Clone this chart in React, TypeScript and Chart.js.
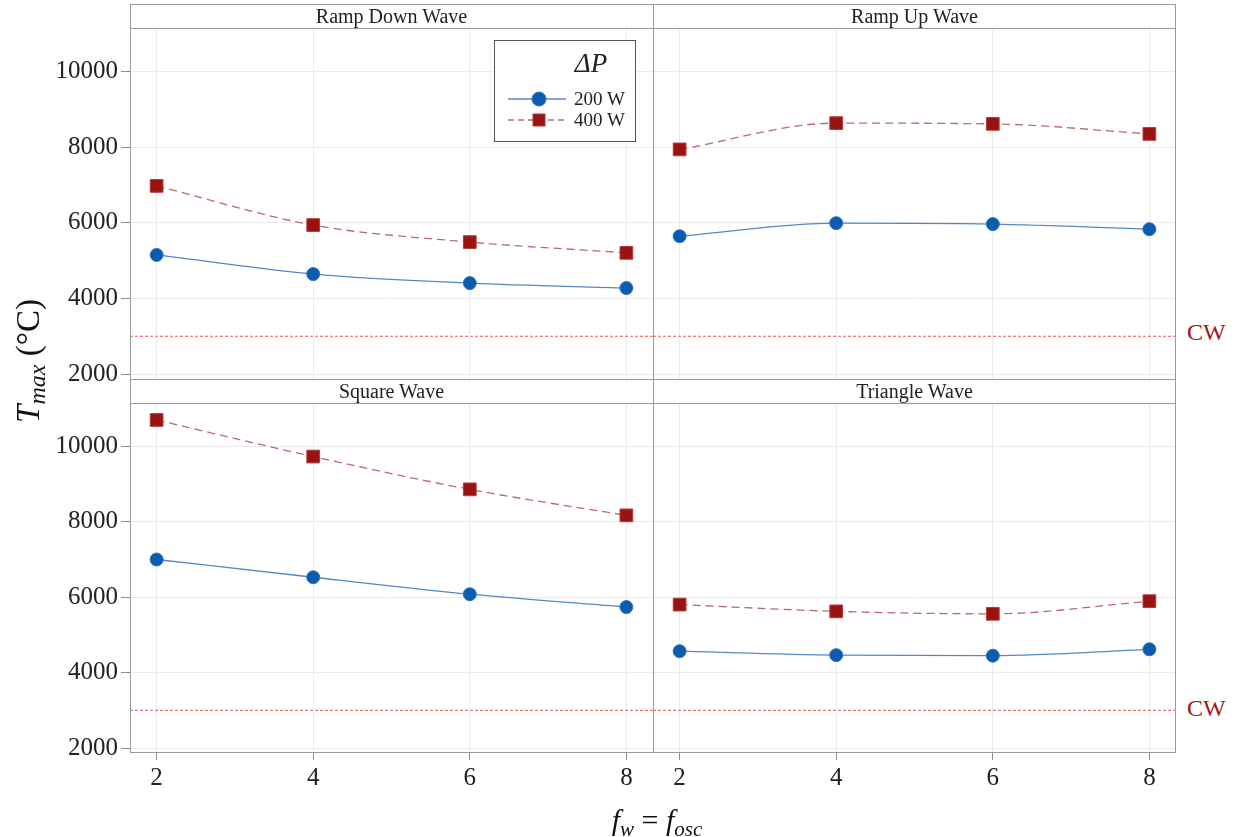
import React, { useEffect, useRef } from "react";
import { Chart, registerables } from "chart.js";

Chart.register(...registerables);

// Oscillation frequency (x) and maximum temperature (y) for each wave shape.
const frequencies = [2, 4, 6, 8];
const yTickValues = [2000, 4000, 6000, 8000, 10000];

const rampDown200 = [5150, 4645, 4405, 4275];
const rampDown400 = [6975, 5940, 5490, 5205];
const rampUp200 = [5645, 5990, 5965, 5830];
const rampUp400 = [7940, 8635, 8615, 8350];
const square200 = [7000, 6530, 6080, 5740];
const square400 = [10700, 9730, 8860, 8170];
const triangle200 = [4570, 4465, 4450, 4620];
const triangle400 = [5805, 5625, 5560, 5895];

const cwLevel = 3000;
const xRange = [1.66, 8.34];
const yRange = [1870, 11150];

const panelTitles = ["Ramp Down Wave", "Ramp Up Wave", "Square Wave", "Triangle Wave"];
const seriesLabels = ["200 W", "400 W"];

const SERIF = "'Liberation Serif', 'Times New Roman', Times, serif";
const GRID = "#ebebeb";
const FRAME = "#9a9a9a";

type PanelSpec = {
  title: string;
  low: number[];
  high: number[];
  left: number;
  top: number;
  width: number;
  height: number;
  yAxisWidth: number;
  xAxisHeight: number;
  xLabels: boolean;
};

// Top panels keep a little room below the plot so the lowest y label is not cut.
const panels: PanelSpec[] = [
  { title: panelTitles[0], low: rampDown200, high: rampDown400, left: 0, top: 28, width: 653, height: 371, yAxisWidth: 130, xAxisHeight: 20, xLabels: false },
  { title: panelTitles[1], low: rampUp200, high: rampUp400, left: 653, top: 28, width: 523, height: 351, yAxisWidth: 0, xAxisHeight: 0, xLabels: false },
  { title: panelTitles[2], low: square200, high: square400, left: 0, top: 403, width: 653, height: 400, yAxisWidth: 130, xAxisHeight: 50, xLabels: true },
  { title: panelTitles[3], low: triangle200, high: triangle400, left: 653, top: 403, width: 523, height: 400, yAxisWidth: 0, xAxisHeight: 50, xLabels: true },
];

function buildConfig(p: PanelSpec): any {
  const showY = p.yAxisWidth > 0;
  const showX = p.xLabels;
  return {
    type: "line",
    data: {
      datasets: [
        {
          label: seriesLabels[0],
          data: frequencies.map((x, i) => ({ x, y: p.low[i] })),
          borderColor: "#5388c8",
          borderWidth: 1.3,
          cubicInterpolationMode: "monotone",
          pointStyle: "circle",
          pointRadius: 6.5,
          pointBackgroundColor: "#0b5cad",
          pointBorderColor: "#2f74c2",
          pointBorderWidth: 1,
        },
        {
          label: seriesLabels[1],
          data: frequencies.map((x, i) => ({ x, y: p.high[i] })),
          borderColor: "#bb6a6a",
          borderWidth: 1.3,
          borderDash: [8, 5],
          cubicInterpolationMode: "monotone",
          pointStyle: "rect",
          pointRadius: 9,
          pointBackgroundColor: "#9a1313",
          pointBorderColor: "#b83a3a",
          pointBorderWidth: 1,
        },
        {
          label: "CW",
          data: [
            { x: xRange[0], y: cwLevel },
            { x: xRange[1], y: cwLevel },
          ],
          borderColor: "#e25a5a",
          borderWidth: 1,
          borderDash: [3, 2],
          pointRadius: 0,
        },
      ],
    },
    options: {
      responsive: false,
      maintainAspectRatio: false,
      animation: false,
      events: [],
      layout: { padding: 0, autoPadding: false },
      plugins: { legend: { display: false }, tooltip: { enabled: false } },
      scales: {
        x: {
          type: "linear",
          min: xRange[0],
          max: xRange[1],
          afterBuildTicks: (s: any) => {
            s.ticks = frequencies.map((v) => ({ value: v }));
          },
          afterFit: (s: any) => {
            s.height = p.xAxisHeight;
            s.paddingLeft = 0;
            s.paddingRight = 0;
          },
          border: { display: false },
          grid: { color: GRID, lineWidth: 1, drawTicks: showX, tickLength: 7, tickColor: "#8c8c8c" },
          ticks: {
            display: showX,
            padding: 3,
            maxRotation: 0,
            color: "#222",
            font: { family: SERIF, size: 25 },
            callback: (v: number) => String(v),
          },
        },
        y: {
          type: "linear",
          min: yRange[0],
          max: yRange[1],
          afterBuildTicks: (s: any) => {
            s.ticks = yTickValues.map((v) => ({ value: v }));
          },
          afterFit: (s: any) => {
            s.width = p.yAxisWidth;
            s.paddingTop = 0;
            s.paddingBottom = 0;
          },
          border: { display: false },
          grid: { color: GRID, lineWidth: 1, drawTicks: showY, tickLength: 9, tickColor: "#8c8c8c" },
          ticks: {
            display: showY,
            padding: 3,
            color: "#222",
            font: { family: SERIF, size: 25 },
            callback: (v: number) => String(v),
          },
        },
      },
    },
  };
}

function Panel({ spec }: { spec: PanelSpec }) {
  const ref = useRef<HTMLCanvasElement | null>(null);
  useEffect(() => {
    if (!ref.current) return;
    const chart = new Chart(ref.current, buildConfig(spec));
    return () => chart.destroy();
  }, [spec]);
  return (
    <canvas
      ref={ref}
      width={spec.width}
      height={spec.height}
      style={{ position: "absolute", left: spec.left, top: spec.top, width: spec.width, height: spec.height }}
    />
  );
}

const hLine = (top: number): React.CSSProperties => ({
  position: "absolute", left: 130, top, width: 1046, height: 1, background: FRAME,
});

function StripLabel({ text, left, top }: { text: string; left: number; top: number }) {
  return (
    <div
      style={{
        position: "absolute", left, top, width: 523, height: 24, lineHeight: "24px",
        textAlign: "center", fontFamily: SERIF, fontSize: 20, color: "#222",
      }}
    >
      {text}
    </div>
  );
}

function Legend() {
  return (
    <div
      style={{
        position: "absolute", left: 494, top: 40, width: 142, height: 102, boxSizing: "border-box",
        border: "1px solid #555", background: "#fff", fontFamily: SERIF,
      }}
    >
      <div style={{ position: "absolute", left: 0, top: 6, width: 192, textAlign: "center", fontSize: 27, fontStyle: "italic", color: "#222", lineHeight: "32px" }}>
        ΔP
      </div>
      <svg style={{ position: "absolute", left: 13, top: 47 }} width={60} height={22}>
        <line x1={0} y1={11} x2={58} y2={11} stroke="#5388c8" strokeWidth={1.3} />
        <circle cx={31} cy={11} r={7} fill="#0b5cad" stroke="#2f74c2" strokeWidth={1} />
      </svg>
      <svg style={{ position: "absolute", left: 13, top: 68 }} width={60} height={22}>
        <line x1={0} y1={11} x2={58} y2={11} stroke="#bb6a6a" strokeWidth={1.3} strokeDasharray="6 4" />
        <rect x={25} y={5} width={12} height={12} fill="#9a1313" stroke="#b83a3a" strokeWidth={1} />
      </svg>
      <div style={{ position: "absolute", left: 79, top: 46, fontSize: 19, lineHeight: "24px", color: "#222" }}>{seriesLabels[0]}</div>
      <div style={{ position: "absolute", left: 79, top: 67, fontSize: 19, lineHeight: "24px", color: "#222" }}>{seriesLabels[1]}</div>
    </div>
  );
}

export default function App() {
  return (
    <div style={{ position: "absolute", left: 0, top: 0, width: 1235, height: 837, background: "#fff", overflow: "hidden" }}>
      {panels.map((p) => (
        <Panel key={p.title} spec={p} />
      ))}

      {/* panel frames and strips */}
      <div style={{ position: "absolute", left: 130, top: 4, width: 1046, height: 749, boxSizing: "border-box", border: `1px solid ${FRAME}` }} />
      <div style={{ position: "absolute", left: 131, top: 380, width: 1044, height: 23, background: "#fff" }} />
      <div style={hLine(28)} />
      <div style={hLine(379)} />
      <div style={hLine(403)} />
      <div style={{ position: "absolute", left: 653, top: 4, width: 1, height: 749, background: FRAME }} />

      <StripLabel text={panelTitles[0]} left={130} top={4} />
      <StripLabel text={panelTitles[1]} left={653} top={4} />
      <StripLabel text={panelTitles[2]} left={130} top={379} />
      <StripLabel text={panelTitles[3]} left={653} top={379} />

      {/* CW reference labels */}
      <div style={{ position: "absolute", left: 1187, top: 318, fontFamily: SERIF, fontSize: 24, color: "#a01818", lineHeight: "28px" }}>CW</div>
      <div style={{ position: "absolute", left: 1187, top: 694, fontFamily: SERIF, fontSize: 24, color: "#a01818", lineHeight: "28px" }}>CW</div>

      <Legend />

      {/* axis titles */}
      <div
        style={{
          position: "absolute", left: 28 - 120, top: 361 - 22, width: 240, height: 44, lineHeight: "44px",
          textAlign: "center", transform: "rotate(-90deg)", fontFamily: SERIF, fontSize: 33, color: "#111",
          whiteSpace: "nowrap",
        }}
      >
        <i>T</i>
        <sub style={{ fontSize: 24, fontStyle: "italic", verticalAlign: "-6px" }}>max</sub>
        <span> (°C)</span>
      </div>
      <div
        style={{
          position: "absolute", left: 657 - 150, top: 800, width: 300, height: 40, lineHeight: "40px",
          textAlign: "center", fontFamily: SERIF, fontSize: 30, color: "#111", whiteSpace: "nowrap",
        }}
      >
        <i>f</i>
        <sub style={{ fontSize: 21, fontStyle: "italic", verticalAlign: "-6px" }}>w</sub>
        <span> = </span>
        <i>f</i>
        <sub style={{ fontSize: 21, fontStyle: "italic", verticalAlign: "-6px" }}>osc</sub>
      </div>
    </div>
  );
}
